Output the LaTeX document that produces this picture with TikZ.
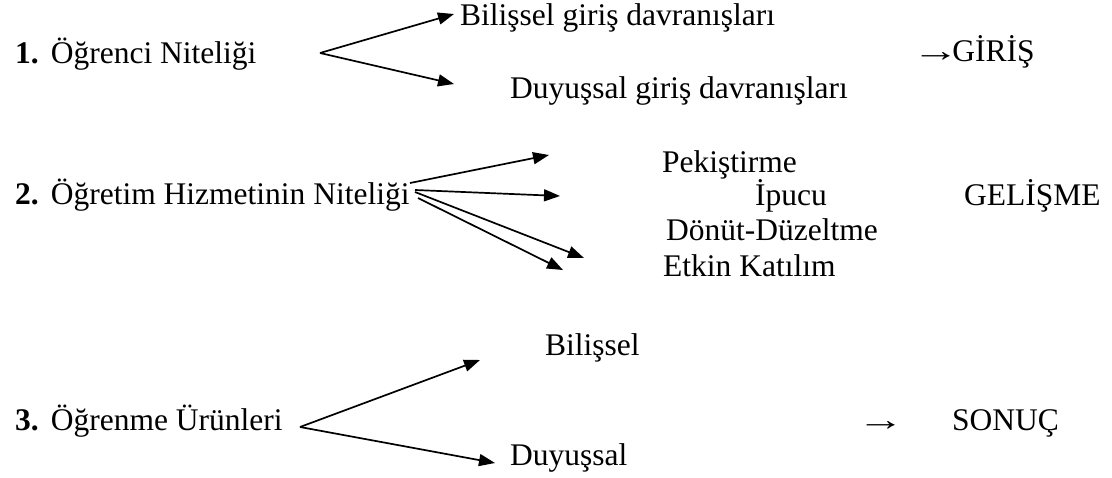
\documentclass[tikz,border=0pt]{standalone}
\usepackage{fontspec}
\setmainfont{Liberation Serif}
\usetikzlibrary{arrows.meta}
\newcommand{\rarr}{\scalebox{1.5}[1]{→}}
\begin{document}
\begin{tikzpicture}[x=1pt,y=-1pt,
  lbl/.style={anchor=base west,inner sep=0pt,font=\fontsize{31.5}{38}\selectfont},
  arr/.style={line width=1.7pt,-{Triangle[length=16pt,width=12pt]}}]
\useasboundingbox (0,0) rectangle (1112,477);
% row 1
\node[lbl] (n1) at (15,63) {\textbf{1.}\hspace{12pt}Öğrenci Niteliği};
\node[lbl] (b1) at (460,25) {Bilişsel giriş davranışları};
\node[lbl] (d1) at (510,98) {Duyuşsal giriş davranışları};
\node[lbl] (g1) at (912,61) {\rarr\kern-7pt GİRİŞ};
\coordinate (s1) at (320,53);
\coordinate (t1a) at (454,14);
\coordinate (t1b) at (454,84);
\draw[arr] (s1) -- (t1a);
\draw[arr] (s1) -- (t1b);
% row 2
\node[lbl] (n2) at (15,204) {\textbf{2.}\hspace{12pt}Öğretim Hizmetinin Niteliği};
\node[lbl] (p2) at (662,172) {Pekiştirme};
\node[lbl] (i2) at (755,205) {İpucu};
\node[lbl] (dz2) at (666,240) {Dönüt-Düzeltme};
\node[lbl] (e2) at (663,276) {Etkin Katılım};
\node[lbl] (ge2) at (964,205) {GELİŞME};
\coordinate (s2a) at (410,183);
\coordinate (s2b) at (415,190);
\coordinate (s2c) at (415,192);
\coordinate (s2d) at (418,198);
\coordinate (t2a) at (549,155);
\coordinate (t2b) at (560,196);
\coordinate (t2c) at (584,258);
\coordinate (t2d) at (563,270);
\draw[arr] (s2a) -- (t2a);
\draw[arr] (s2b) -- (t2b);
\draw[arr] (s2c) -- (t2c);
\draw[arr] (s2d) -- (t2d);
% row 3
\node[lbl] (n3) at (15,430) {\textbf{3.}\hspace{12pt}Öğrenme Ürünleri};
\node[lbl] (b3) at (545,355) {Bilişsel};
\node[lbl] (d3) at (510,465) {Duyuşsal};
\node[lbl] (ar3) at (857,430) {\rarr};
\node[lbl] (so3) at (952,430) {SONUÇ};
\coordinate (s3) at (300,427);
\coordinate (t3a) at (480,360);
\coordinate (t3b) at (495,463);
\draw[arr] (s3) -- (t3a);
\draw[arr] (s3) -- (t3b);
\end{tikzpicture}
\end{document}
